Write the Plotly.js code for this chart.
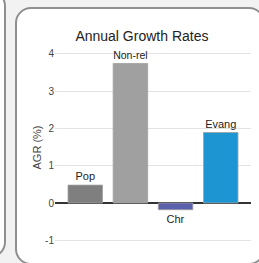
<!DOCTYPE html>
<html><head><meta charset="utf-8">
<script src="https://cdn.plot.ly/plotly-3.0.1.min.js"></script>
<style>
html,body{margin:0;padding:0;width:259px;height:263px;overflow:hidden;background:#f2f2f2;}
.card{position:absolute;background:#fff;border:2px solid #8f8f8f;border-radius:16px;box-sizing:border-box;}
#plot{position:absolute;left:0;top:0;width:259px;height:263px;}
</style></head><body>
<div class="card" style="left:-250px;top:-10px;width:256px;height:268px;"></div>
<div class="card" style="left:15px;top:7px;width:250px;height:258px;"></div>
<div id="plot"></div>
<script>
const categories = ["Pop", "Non-rel", "Chr", "Evang"];
const agrValues = [0.48, 3.74, -0.18, 1.89];
const barColors = ["#7f7f7f", "#a0a0a0", "#5b60ad", "#1e95d3"];
const chartTitle = "Annual Growth Rates";
const yTitle = "AGR (%)";
const yTicks = [-1, 0, 1, 2, 3, 4];

Plotly.newPlot("plot", [{
  type: "bar",
  x: categories,
  y: agrValues,
  text: categories,
  textposition: "outside",
  textfont: {family: "Liberation Sans, Arial, sans-serif", size: 11, color: "#222"},
  marker: {color: barColors, line: {color: "rgba(160,160,160,0.8)", width: 1}},
  hoverinfo: "none",
  cliponaxis: false
}], {
  width: 259, height: 263,
  margin: {l: 55, r: 8, t: 40, b: 8},
  paper_bgcolor: "rgba(0,0,0,0)",
  plot_bgcolor: "rgba(0,0,0,0)",
  font: {family: "Liberation Sans, Arial, sans-serif", color: "#444"},
  title: {text: chartTitle, font: {size: 14, color: "#222"}, x: 0.548, xref: "container", xanchor: "center", y: 0.863, yref: "container", yanchor: "middle"},
  bargap: 0.236,
  showlegend: false,
  xaxis: {range: [-0.67, 3.67], showticklabels: false, showgrid: false, zeroline: false, showline: false, fixedrange: true},
  yaxis: {range: [-1.394, 4.37], tickvals: yTicks, ticktext: yTicks.map(String), tickfont: {size: 10, color: "#444"},
          gridcolor: "#e3e3e3", gridwidth: 1, zeroline: true, zerolinecolor: "#333", zerolinewidth: 1.5,
          showline: false, title: {text: yTitle, font: {size: 11, color: "#444"}, standoff: 1}, fixedrange: true}
}, {displayModeBar: false, staticPlot: true});
</script>
</body></html>
